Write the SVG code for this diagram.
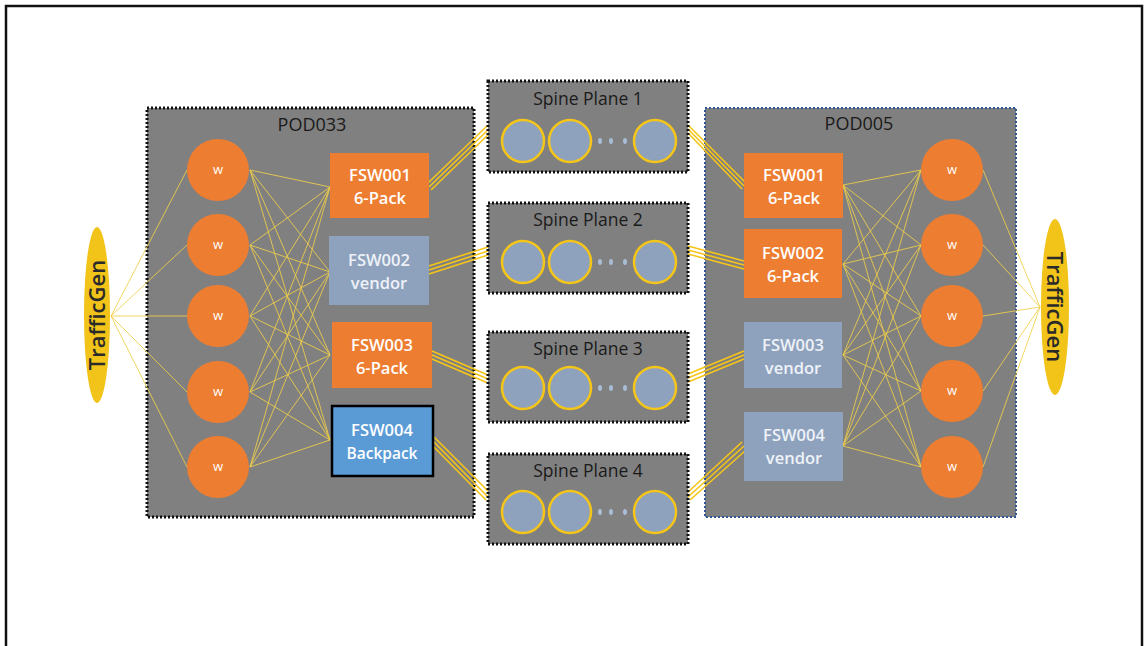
<svg xmlns="http://www.w3.org/2000/svg" width="1146" height="646" viewBox="0 0 1146 646">
<style>
.pod{fill:#808080;stroke:#111;stroke-width:3;stroke-dasharray:2 2}
.podb{fill:#808080;stroke:#2f5597;stroke-width:2;stroke-dasharray:2 2}
.w{fill:#ed7d31}
.wt{font-family:"Open Sans","Liberation Sans",sans-serif;font-size:13px;fill:#fff;text-anchor:middle}
.six{fill:#ed7d31}
.ven{fill:#8ea2bd}
.bp{fill:#5b9bd5;stroke:#000;stroke-width:2.5}
.bt{font-family:"Open Sans","Liberation Sans",sans-serif;font-size:16.5px;fill:#fff;text-anchor:middle;font-weight:600}
.vt{fill:#eef2f8}
.lbl{font-family:"Open Sans","Liberation Sans",sans-serif;font-size:18px;fill:#1a1a1a;text-anchor:middle}
.sp{font-family:"Open Sans","Liberation Sans",sans-serif;font-size:17.5px;fill:#1a1a1a;text-anchor:middle}
.sc{fill:#8ea2bd;stroke:#f5c518;stroke-width:2.5}
.dot{fill:#a9bcd6}
.tg{fill:#f2c318}
.tgt{font-family:"Open Sans","Liberation Sans",sans-serif;font-size:22px;fill:#2a2a2a;text-anchor:middle;font-weight:600}
.mesh{stroke:#f0cf4a;stroke-width:1;fill:none;opacity:0.85}
.trunk{stroke:#f5c518;stroke-width:1.6;fill:none}
</style>
<rect x="0" y="0" width="1146" height="646" fill="#fff"/>
<path d="M6,646 V6 H1142 V646" fill="none" stroke="#111" stroke-width="2.5"/>

<g id="pod033"><rect class="pod" x="147" y="108" width="327" height="409"/><text class="lbl" x="312" y="131">POD033</text></g>
<g id="pod005"><rect class="podb" x="705" y="108" width="311" height="409"/><text class="lbl" x="859" y="130">POD005</text></g>

<g id="connectors">
<path class="mesh" d="M111,316 L187,170 M111,316 L187,245 M111,316 L187,316 M111,316 L187,392 M111,316 L187,467"/>
<path class="mesh" d="M250,170 L330,187 M250,170 L330,272 M250,170 L330,355 M250,170 L330,440
M250,245 L330,187 M250,245 L330,272 M250,245 L330,355 M250,245 L330,440
M250,316 L330,187 M250,316 L330,272 M250,316 L330,355 M250,316 L330,440
M250,392 L330,187 M250,392 L330,272 M250,392 L330,355 M250,392 L330,440
M250,467 L330,187 M250,467 L330,272 M250,467 L330,355 M250,467 L330,440"/>
<path class="mesh" d="M843,185 L921,170 M843,185 L921,245 M843,185 L921,316 M843,185 L921,391 M843,185 L921,467
M843,264 L921,170 M843,264 L921,245 M843,264 L921,316 M843,264 L921,391 M843,264 L921,467
M843,355 L921,170 M843,355 L921,245 M843,355 L921,316 M843,355 L921,391 M843,355 L921,467
M843,446 L921,170 M843,446 L921,245 M843,446 L921,316 M843,446 L921,391 M843,446 L921,467"/>
<path class="mesh" d="M983,170 L1040,307 M983,245 L1040,307 M983,316 L1040,307 M983,391 L1040,307 M983,467 L1040,307"/>
<g class="trunk">
<path d="M427,184 L488,125 M429,187 L490,128 M431,190 L492,131"/>
<path d="M429,266 L488,247 M429,270 L488,251 M429,274 L488,255"/>
<path d="M432,351 L488,375 M432,355 L488,379 M432,359 L488,383"/>
<path d="M434,437 L490,493 M432,440 L488,497 M430,443 L486,500"/>
<path d="M688,125 L746,183 M688,129 L744,186 M688,133 L742,189"/>
<path d="M688,246 L744,261 M688,250 L744,265 M688,254 L744,269"/>
<path d="M688,374 L744,351 M688,378 L744,355 M688,382 L744,359"/>
<path d="M686,494 L742,442 M688,497 L744,446 M690,500 L746,450"/>
</g>
</g>

<g id="tg-left"><ellipse class="tg" cx="97" cy="315" rx="13" ry="88"/><text class="tgt" transform="translate(105,315) rotate(-90)">TrafficGen</text></g>
<g id="tg-right"><ellipse class="tg" cx="1055" cy="307" rx="14" ry="88"/><text class="tgt" transform="translate(1047,307) rotate(90)">TrafficGen</text></g>

<g id="l-w1"><circle class="w" cx="218" cy="170" r="31"/><text class="wt" x="218" y="174">w</text></g>
<g id="l-w2"><circle class="w" cx="218" cy="245" r="31"/><text class="wt" x="218" y="249">w</text></g>
<g id="l-w3"><circle class="w" cx="218" cy="316" r="31"/><text class="wt" x="218" y="320">w</text></g>
<g id="l-w4"><circle class="w" cx="218" cy="392" r="31"/><text class="wt" x="218" y="396">w</text></g>
<g id="l-w5"><circle class="w" cx="218" cy="467" r="31"/><text class="wt" x="218" y="471">w</text></g>

<g id="l-fsw001"><rect class="six" x="330" y="153" width="99" height="65"/><text class="bt" x="380" y="181">FSW001</text><text class="bt" x="380" y="204">6-Pack</text></g>
<g id="l-fsw002"><rect class="ven" x="329" y="236" width="100" height="69"/><text class="bt vt" x="379" y="266">FSW002</text><text class="bt vt" x="379" y="289">vendor</text></g>
<g id="l-fsw003"><rect class="six" x="332" y="322" width="100" height="66"/><text class="bt" x="382" y="351">FSW003</text><text class="bt" x="382" y="374">6-Pack</text></g>
<g id="l-fsw004"><rect class="bp" x="332" y="406" width="101" height="70"/><text class="bt" x="382" y="436">FSW004</text><text class="bt" x="382" y="459" style="font-size:15.5px">Backpack</text></g>

<g id="spine1"><rect class="pod" x="488" y="81" width="200" height="91"/><text class="sp" x="588" y="105">Spine Plane 1</text>
<circle class="sc" cx="523" cy="141" r="21"/><circle class="sc" cx="570" cy="141" r="21"/><circle class="sc" cx="655" cy="141" r="21"/>
<ellipse class="dot" cx="600" cy="141" rx="2" ry="3"/><ellipse class="dot" cx="611" cy="141" rx="2" ry="3"/><ellipse class="dot" cx="625" cy="141" rx="2" ry="3"/></g>
<g id="spine2"><rect class="pod" x="488" y="203" width="200" height="90"/><text class="sp" x="588" y="226">Spine Plane 2</text>
<circle class="sc" cx="523" cy="262" r="21"/><circle class="sc" cx="570" cy="262" r="21"/><circle class="sc" cx="655" cy="262" r="21"/>
<ellipse class="dot" cx="600" cy="262" rx="2" ry="3"/><ellipse class="dot" cx="611" cy="262" rx="2" ry="3"/><ellipse class="dot" cx="625" cy="262" rx="2" ry="3"/></g>
<g id="spine3"><rect class="pod" x="488" y="332" width="200" height="90"/><text class="sp" x="588" y="355">Spine Plane 3</text>
<circle class="sc" cx="523" cy="388" r="21"/><circle class="sc" cx="570" cy="388" r="21"/><circle class="sc" cx="655" cy="388" r="21"/>
<ellipse class="dot" cx="600" cy="388" rx="2" ry="3"/><ellipse class="dot" cx="611" cy="388" rx="2" ry="3"/><ellipse class="dot" cx="625" cy="388" rx="2" ry="3"/></g>
<g id="spine4"><rect class="pod" x="488" y="454" width="200" height="90"/><text class="sp" x="588" y="477">Spine Plane 4</text>
<circle class="sc" cx="523" cy="512" r="21"/><circle class="sc" cx="570" cy="512" r="21"/><circle class="sc" cx="655" cy="512" r="21"/>
<ellipse class="dot" cx="600" cy="512" rx="2" ry="3"/><ellipse class="dot" cx="611" cy="512" rx="2" ry="3"/><ellipse class="dot" cx="625" cy="512" rx="2" ry="3"/></g>

<g id="r-fsw001"><rect class="six" x="744" y="153" width="99" height="65"/><text class="bt" x="794" y="181">FSW001</text><text class="bt" x="794" y="204">6-Pack</text></g>
<g id="r-fsw002"><rect class="six" x="744" y="229" width="98" height="69"/><text class="bt" x="793" y="259">FSW002</text><text class="bt" x="793" y="282">6-Pack</text></g>
<g id="r-fsw003"><rect class="ven" x="744" y="322" width="98" height="66"/><text class="bt vt" x="793" y="351">FSW003</text><text class="bt vt" x="793" y="374">vendor</text></g>
<g id="r-fsw004"><rect class="ven" x="744" y="412" width="99" height="69"/><text class="bt vt" x="794" y="441">FSW004</text><text class="bt vt" x="794" y="464">vendor</text></g>

<g id="r-w1"><circle class="w" cx="952" cy="170" r="31"/><text class="wt" x="952" y="174">w</text></g>
<g id="r-w2"><circle class="w" cx="952" cy="245" r="31"/><text class="wt" x="952" y="249">w</text></g>
<g id="r-w3"><circle class="w" cx="952" cy="316" r="31"/><text class="wt" x="952" y="320">w</text></g>
<g id="r-w4"><circle class="w" cx="952" cy="391" r="31"/><text class="wt" x="952" y="395">w</text></g>
<g id="r-w5"><circle class="w" cx="952" cy="467" r="31"/><text class="wt" x="952" y="471">w</text></g>
</svg>
